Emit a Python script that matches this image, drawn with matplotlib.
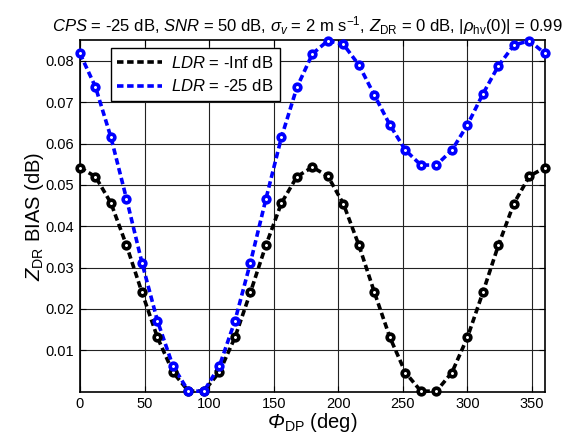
import numpy as np
import matplotlib
matplotlib.use('Agg')
import matplotlib.pyplot as plt
from matplotlib.lines import Line2D

plt.rcParams['font.family'] = ['Liberation Sans', 'DejaVu Sans']
plt.rcParams['mathtext.fontset'] = 'custom'
plt.rcParams['mathtext.rm'] = 'Liberation Sans'
plt.rcParams['mathtext.it'] = 'Liberation Sans:italic'
plt.rcParams['mathtext.sf'] = 'Liberation Sans:italic'  # for italic capital Greek

# differential phase (deg), sampled every 12 deg
phi_dp = list(range(0, 361, 12))

# ZDR bias (dB)
bias_ldr_inf = [0.0542, 0.0520, 0.0456, 0.0354, 0.0240, 0.0131, 0.0047, 0.0001,
                0.0001, 0.0047, 0.0131, 0.0240, 0.0354, 0.0456, 0.0520, 0.0543,
                0.0521, 0.0454, 0.0354, 0.0240, 0.0131, 0.0046, 0.0001, 0.0001,
                0.0046, 0.0131, 0.0240, 0.0354, 0.0455, 0.0521, 0.0542]
bias_ldr_25 = [0.0818, 0.0737, 0.0615, 0.0467, 0.0312, 0.0171, 0.0062, 0.0001,
               0.0001, 0.0062, 0.0171, 0.0312, 0.0466, 0.0615, 0.0736, 0.0817,
               0.0849, 0.0840, 0.0790, 0.0717, 0.0645, 0.0584, 0.0548, 0.0548,
               0.0584, 0.0645, 0.0720, 0.0788, 0.0838, 0.0849, 0.0818]

fig = plt.figure(figsize=(5.67, 4.47), dpi=100)
ax = fig.add_axes([0.141, 0.124, 0.820, 0.786])

dash = (1.8, 1.0)
for y, c in [(bias_ldr_inf, 'black'), (bias_ldr_25, 'blue')]:
    ax.plot(phi_dp, y, '--', color=c, lw=2.6, dashes=dash, zorder=3, clip_on=False)
    ax.plot(phi_dp, y, 'o', color=c, mfc='white', mec=c, ms=4.8, mew=2.6,
            zorder=4, clip_on=False)

ax.set_xlim(0, 360)
ax.set_ylim(0, 0.085)
ax.set_xticks(range(0, 351, 50))
ax.set_yticks([0.01, 0.02, 0.03, 0.04, 0.05, 0.06, 0.07, 0.08])
ax.set_yticklabels(['0.01', '0.02', '0.03', '0.04', '0.05', '0.06', '0.07', '0.08'])
ax.tick_params(direction='in', top=True, right=True, labelsize=10.5, length=4, width=0.8, pad=4)
ax.grid(True, color='#222222', lw=0.8)
for s in ax.spines.values():
    s.set_linewidth(1.2)

ax.set_xlabel(r'$\mathsf{Φ}_{\rm DP}$ (deg)', fontsize=14.5, labelpad=0)
ax.set_ylabel(r'$\mathit{Z}_{\rm DR}$ BIAS (dB)', fontsize=14.5, labelpad=0)
ax.set_title(r'$\mathit{CPS}$ = -25 dB, $\mathit{SNR}$ = 50 dB, $\mathit{σ}_{v}$ = 2 m s$^{-1}$, '
             r'$\mathit{Z}_{\rm DR}$ = 0 dB, |$\mathit{ρ}_{\rm hv}$(0)| = 0.99',
             fontsize=12, pad=6, x=0.49)

handles = [Line2D([], [], color='black', ls='--', lw=2.6, dashes=dash),
           Line2D([], [], color='blue', ls='--', lw=2.6, dashes=dash)]
labels = [r'$\mathit{LDR}$ = -Inf dB', r'$\mathit{LDR}$ = -25 dB']
leg = ax.legend(handles, labels, loc='upper left', bbox_to_anchor=(0.066, 0.977),
                borderaxespad=0, fontsize=12, fancybox=False, framealpha=1,
                edgecolor='black', handlelength=2.7, borderpad=0.4,
                labelspacing=0.45, handletextpad=0.5)
leg.get_frame().set_linewidth(1.0)

fig.savefig('out.png', dpi=100)
